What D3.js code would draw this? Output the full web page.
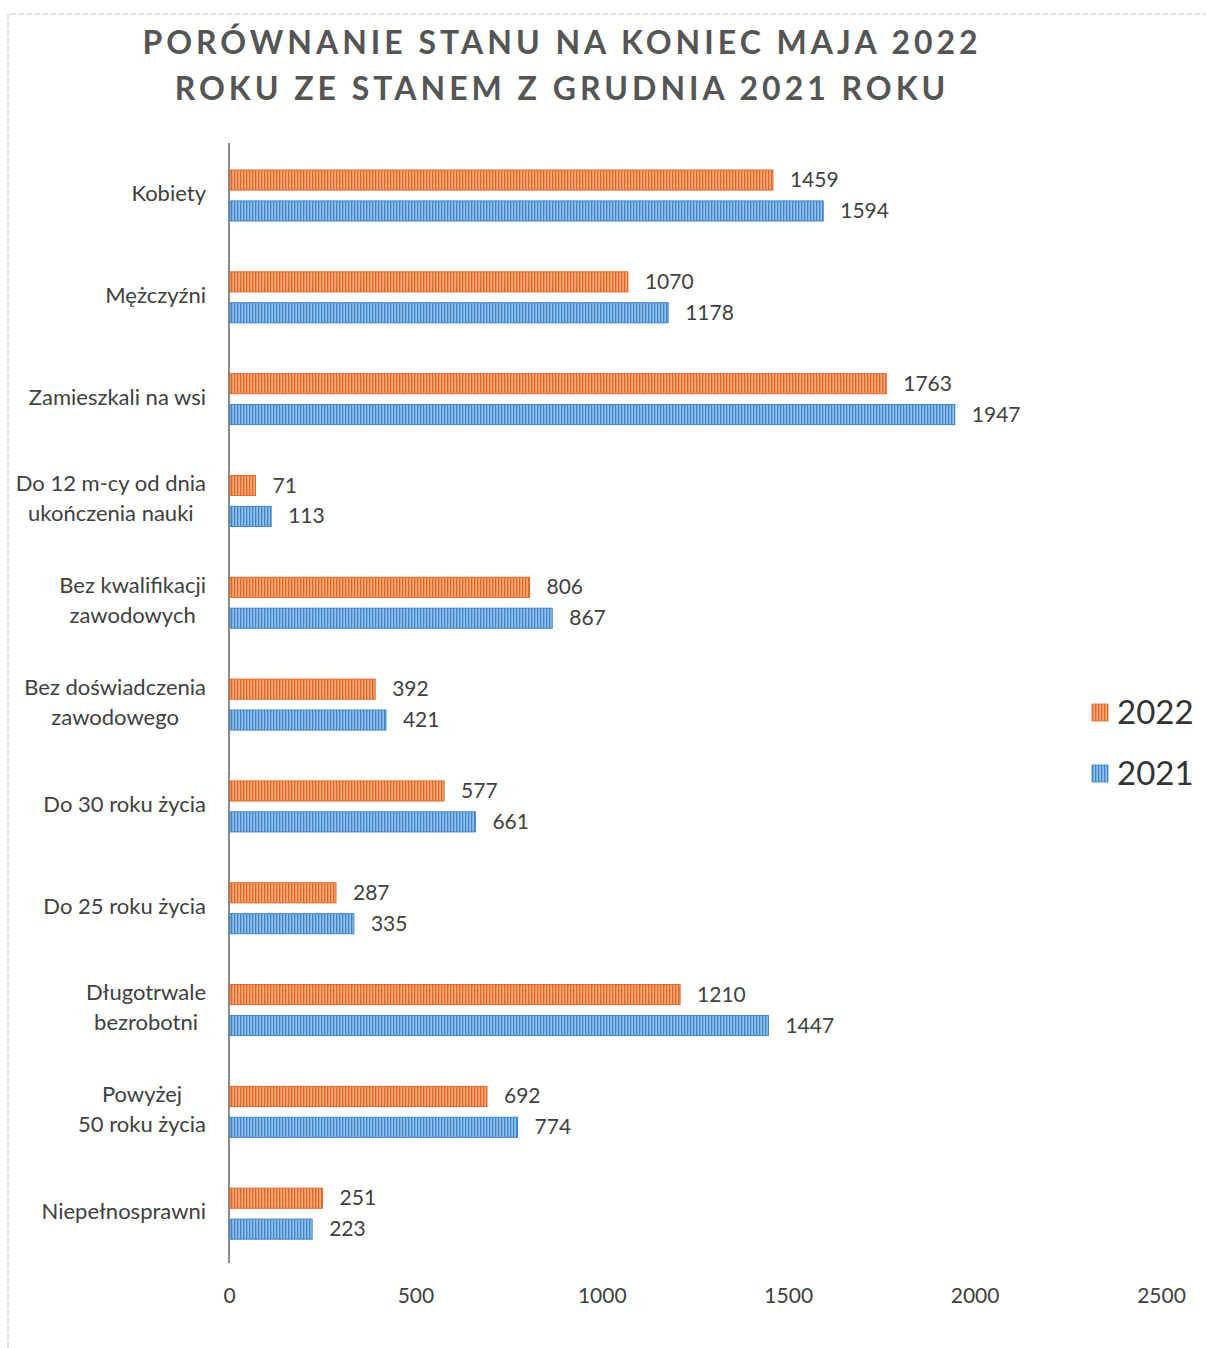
<!DOCTYPE html>
<html>
<head>
<meta charset="utf-8">
<script src="https://cdn.jsdelivr.net/npm/d3@7"></script>
<style>
  body { margin: 0; background: #fff; }
  text { font-family: Lato, "Open Sans", sans-serif; }
</style>
</head>
<body>
<div id="chart"></div>
<script>
const svgWidth = 1206;
const svgHeight = 1348;

// data
const categories = [
  ["Kobiety"],
  ["Mężczyźni"],
  ["Zamieszkali na wsi"],
  ["Do 12 m-cy od dnia", "ukończenia nauki"],
  ["Bez kwalifikacji", "zawodowych"],
  ["Bez doświadczenia", "zawodowego"],
  ["Do 30 roku życia"],
  ["Do 25 roku życia"],
  ["Długotrwale", "bezrobotni"],
  ["Powyżej", "50 roku życia"],
  ["Niepełnosprawni"]
];
const series = ["2022", "2021"];
const values2022 = [1459, 1070, 1763, 71, 806, 392, 577, 287, 1210, 692, 251];
const values2021 = [1594, 1178, 1947, 113, 867, 421, 661, 335, 1447, 774, 223];
const xTicks = [0, 500, 1000, 1500, 2000, 2500];
const titleLines = ["PORÓWNANIE STANU NA KONIEC MAJA 2022", "ROKU ZE STANEM Z GRUDNIA 2021 ROKU"];

const colors = {
  "2022": { light: "#f6a877", dark: "#e2682a" },
  "2021": { light: "#93c0ea", dark: "#3f86c9" }
};

const svg = d3.select("#chart")
  .append("svg")
  .attr("width", svgWidth)
  .attr("height", svgHeight);

// striped fills
const defs = svg.append("defs");
series.forEach(s => {
  const p = defs.append("pattern")
    .attr("id", "pat" + s)
    .attr("patternUnits", "userSpaceOnUse")
    .attr("width", 3)
    .attr("height", 10);
  p.append("rect").attr("width", 3).attr("height", 10).attr("fill", colors[s].light);
  p.append("rect").attr("x", 0).attr("width", 1.3).attr("height", 10).attr("fill", colors[s].dark);
});

// scanned page border
svg.append("path")
  .attr("d", "M8,1348 V14 H1206")
  .attr("fill", "none")
  .attr("stroke", "#c4c4c4")
  .attr("stroke-width", 1)
  .attr("stroke-dasharray", "6,2");

// title
svg.append("g").selectAll("text")
  .data(titleLines)
  .enter()
  .append("text")
  .attr("x", 562)
  .attr("y", (d, i) => 54 + i * 46)
  .attr("text-anchor", "middle")
  .attr("font-size", 32)
  .attr("font-weight", "bold")
  .attr("letter-spacing", 4)
  .attr("fill", "#555")
  .text(d => d);

// scales
const xScale = d3.scaleLinear()
  .domain([0, 2500])
  .range([229, 1161]);

const yScale = d3.scaleBand()
  .domain(d3.range(categories.length))
  .range([144, 1264]);

const ySub = d3.scaleBand()
  .domain(series)
  .range([26, 77])
  .paddingInner(0.35);

// category axis line
svg.append("line")
  .attr("x1", xScale(0)).attr("x2", xScale(0))
  .attr("y1", 143).attr("y2", 1263)
  .attr("stroke", "#8a8a8a")
  .attr("stroke-width", 2);

// x axis (labels only)
const bottomAxis = d3.axisBottom(xScale)
  .tickValues(xTicks)
  .tickFormat(d3.format("d"))
  .tickSize(0)
  .tickPadding(0);
const xAxis = svg.append("g")
  .attr("transform", "translate(0, 1288)")
  .call(bottomAxis);
xAxis.select(".domain").remove();
xAxis.selectAll("text")
  .attr("font-family", "Lato, sans-serif")
  .attr("font-size", 21)
  .attr("fill", "#404040");

// category labels
const labelGroup = svg.append("g");
categories.forEach((lines, i) => {
  const cy = yScale(i) + yScale.bandwidth() / 2;
  const t = labelGroup.append("text")
    .attr("font-size", 22)
    .attr("fill", "#404040")
    .attr("text-anchor", "middle");
  const lh = 30;
  lines.forEach((ln, j) => {
    t.append("tspan")
      .attr("y", cy + (j - (lines.length - 1) / 2) * lh + 6)
      .text(ln);
  });
  // right-align the centred block at x=206
  let w = 0;
  t.selectAll("tspan").each(function () { w = Math.max(w, this.getComputedTextLength()); });
  t.selectAll("tspan").attr("x", 206 - w / 2);
});

// bars
const barData = [];
categories.forEach((c, i) => {
  barData.push({ i: i, s: "2022", v: values2022[i] });
  barData.push({ i: i, s: "2021", v: values2021[i] });
});

const bars = svg.append("g");
bars.selectAll("rect")
  .data(barData)
  .enter()
  .append("rect")
  .attr("x", xScale(0) + 1)
  .attr("y", d => yScale(d.i) + ySub(d.s))
  .attr("width", d => xScale(d.v) - xScale(0) - 1)
  .attr("height", ySub.bandwidth())
  .attr("fill", d => `url(#pat${d.s})`)
  .attr("stroke", d => colors[d.s].dark)
  .attr("stroke-width", 1);

bars.selectAll("text")
  .data(barData)
  .enter()
  .append("text")
  .attr("x", d => xScale(d.v) + 17)
  .attr("y", d => yScale(d.i) + ySub(d.s) + ySub.bandwidth() / 2 + 7)
  .attr("font-size", 21)
  .attr("fill", "#404040")
  .text(d => d.v);

// legend
const legend = svg.append("g");
series.forEach((s, i) => {
  const ly = 712 + i * 61;
  legend.append("rect")
    .attr("x", 1092)
    .attr("y", ly - 8)
    .attr("width", 16)
    .attr("height", 17)
    .attr("fill", `url(#pat${s})`)
    .attr("stroke", colors[s].dark)
    .attr("stroke-width", 0.8);
  legend.append("text")
    .attr("x", 1117)
    .attr("y", ly + 12)
    .attr("font-size", 33)
    .attr("fill", "#333")
    .text(s);
});
</script>
</body>
</html>
